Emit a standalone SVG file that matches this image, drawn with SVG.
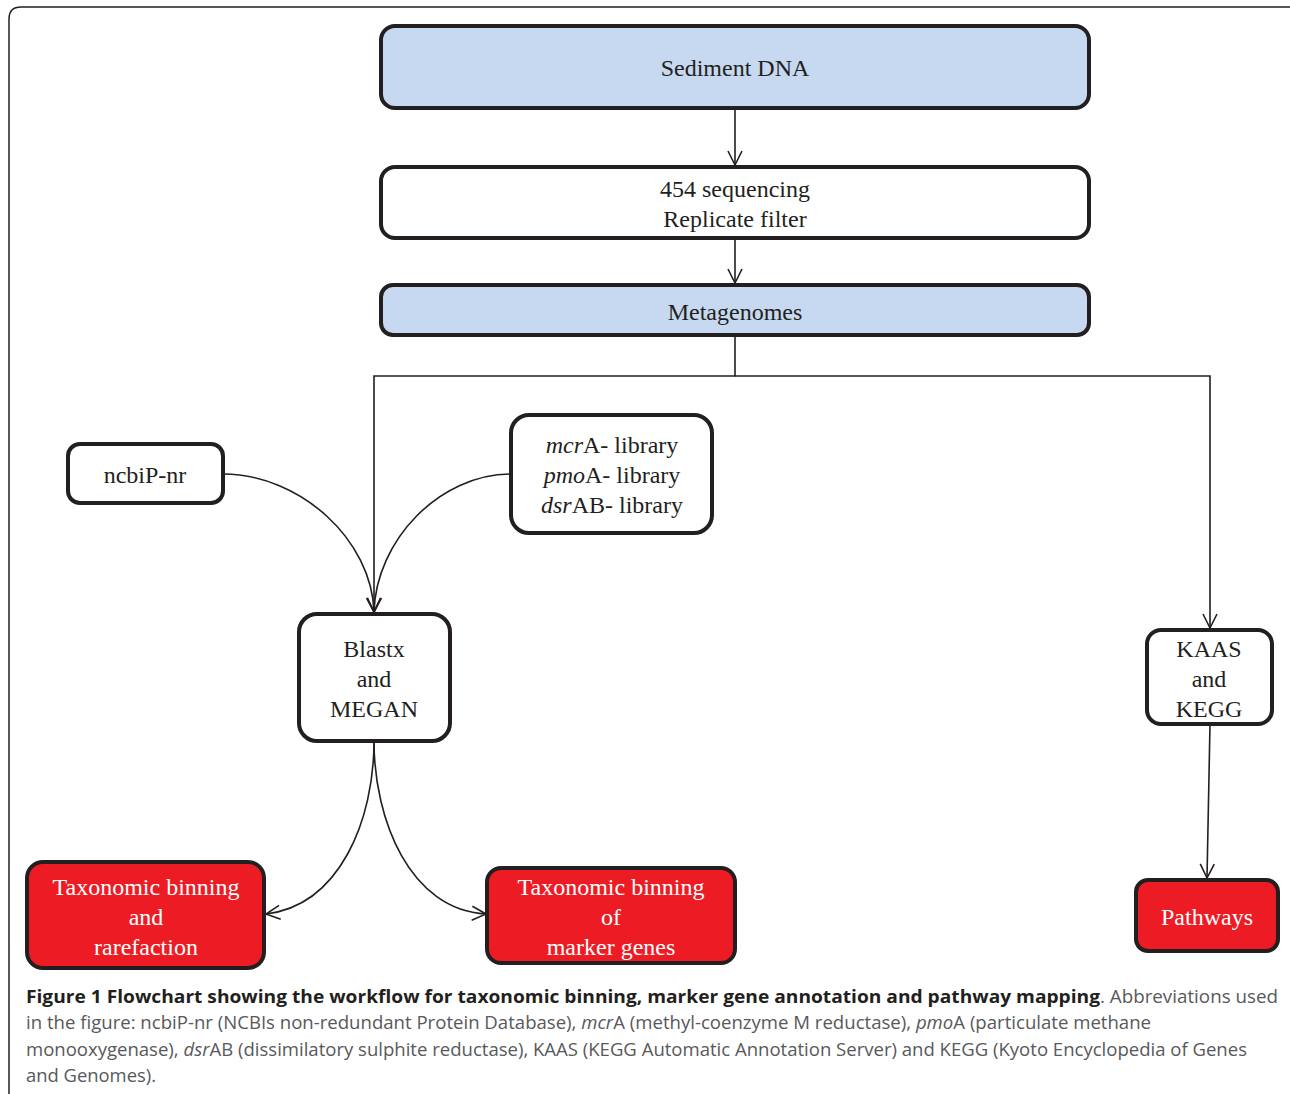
<svg xmlns="http://www.w3.org/2000/svg" width="1290" height="1094" viewBox="0 0 1290 1094">
<style>
.box{stroke:#231f20;stroke-width:4}
.blue{fill:#c6d9f0}
.white{fill:#ffffff}
.red{fill:#ed1c24}
.t{font-family:"Liberation Serif","Times New Roman",serif;font-size:24px;fill:#231f20;text-anchor:middle}
.tw{font-family:"Liberation Serif","Times New Roman",serif;font-size:24px;fill:#ffffff;text-anchor:middle}
.c{stroke:#231f20;stroke-width:1.6;fill:none}
.cap{font-family:"Open Sans","Liberation Sans",sans-serif;font-size:18px;fill:#58595b}
.capb{font-family:"Open Sans","Liberation Sans",sans-serif;font-size:18px;font-weight:bold;fill:#231f20}
</style>
<defs>
<marker id="arr" markerUnits="userSpaceOnUse" markerWidth="20" markerHeight="20" viewBox="-16 -10 20 20" refX="0" refY="0" orient="auto">
<path d="M-14,-7 L0,0 L-14,7" fill="none" stroke="#231f20" stroke-width="1.6"/>
</marker>
</defs>
<rect width="1290" height="1094" fill="#ffffff"/>
<path d="M9,1094 V19 Q9,7 21,7 H1290" fill="none" stroke="#231f20" stroke-width="1.5"/>

<g id="connectors">
<path class="c" d="M735,108 V165" marker-end="url(#arr)"/>
<path class="c" d="M735,238 V283" marker-end="url(#arr)"/>
<path class="c" d="M735,335 V376 H374 V612" marker-end="url(#arr)"/>
<path class="c" d="M735,376 H1210 V628" marker-end="url(#arr)"/>
<path class="c" d="M223,474 C300,474 372,540 374,612" marker-end="url(#arr)"/>
<path class="c" d="M511,474 C440,474 376,540 374,612" marker-end="url(#arr)"/>
<path class="c" d="M374,741 C374,820 340,905 266,914" marker-end="url(#arr)"/>
<path class="c" d="M374,741 C374,820 410,910 486,914" marker-end="url(#arr)"/>
<path class="c" d="M1210,724 L1207,878" marker-end="url(#arr)"/>
</g>

<g id="sediment">
<rect class="box blue" x="381" y="26" width="708" height="82" rx="14"/>
<text class="t" x="735" y="76">Sediment DNA</text>
</g>
<g id="seq">
<rect class="box white" x="381" y="167" width="708" height="71" rx="14"/>
<text class="t" x="735" y="197">454 sequencing</text>
<text class="t" x="735" y="227">Replicate filter</text>
</g>
<g id="meta">
<rect class="box blue" x="381" y="285" width="708" height="50" rx="12"/>
<text class="t" x="735" y="320">Metagenomes</text>
</g>
<g id="ncbi">
<rect class="box white" x="68" y="444" width="155" height="59" rx="12"/>
<text class="t" x="145" y="483">ncbiP-nr</text>
</g>
<g id="lib">
<rect class="box white" x="511" y="415" width="201" height="118" rx="18"/>
<text class="t" x="612" y="453"><tspan font-style="italic">mcr</tspan>A- library</text>
<text class="t" x="612" y="483"><tspan font-style="italic">pmo</tspan>A- library</text>
<text class="t" x="612" y="513"><tspan font-style="italic">dsr</tspan>AB- library</text>
</g>
<g id="blastx">
<rect class="box white" x="299" y="614" width="151" height="127" rx="18"/>
<text class="t" x="374" y="657">Blastx</text>
<text class="t" x="374" y="687">and</text>
<text class="t" x="374" y="717">MEGAN</text>
</g>
<g id="kaas">
<rect class="box white" x="1147" y="630" width="125" height="94" rx="14"/>
<text class="t" x="1209" y="657">KAAS</text>
<text class="t" x="1209" y="687">and</text>
<text class="t" x="1209" y="717">KEGG</text>
</g>
<g id="taxrare">
<rect class="box red" x="27" y="862" width="237" height="106" rx="16"/>
<text class="tw" x="146" y="895">Taxonomic binning</text>
<text class="tw" x="146" y="925">and</text>
<text class="tw" x="146" y="955">rarefaction</text>
</g>
<g id="taxmark">
<rect class="box red" x="487" y="868" width="248" height="95" rx="14"/>
<text class="tw" x="611" y="895">Taxonomic binning</text>
<text class="tw" x="611" y="925">of</text>
<text class="tw" x="611" y="955">marker genes</text>
</g>
<g id="pathways">
<rect class="box red" x="1136" y="880" width="142" height="71" rx="12"/>
<text class="tw" x="1207" y="925">Pathways</text>
</g>

<g id="caption">
<text class="capb" x="26" y="1003" textLength="1074" lengthAdjust="spacingAndGlyphs">Figure 1 Flowchart showing the workflow for taxonomic binning, marker gene annotation and pathway mapping</text>
<text class="cap" x="1100" y="1003" textLength="178" lengthAdjust="spacingAndGlyphs">. Abbreviations used</text>
<text class="cap" x="26" y="1029" textLength="1125" lengthAdjust="spacingAndGlyphs">in the figure: ncbiP-nr (NCBIs non-redundant Protein Database), <tspan font-style="italic">mcr</tspan>A (methyl-coenzyme M reductase), <tspan font-style="italic">pmo</tspan>A (particulate methane</text>
<text class="cap" x="26" y="1056" textLength="1221" lengthAdjust="spacingAndGlyphs">monooxygenase), <tspan font-style="italic">dsr</tspan>AB (dissimilatory sulphite reductase), KAAS (KEGG Automatic Annotation Server) and KEGG (Kyoto Encyclopedia of Genes</text>
<text class="cap" x="26" y="1082" textLength="130" lengthAdjust="spacingAndGlyphs">and Genomes).</text>
</g>
</svg>
